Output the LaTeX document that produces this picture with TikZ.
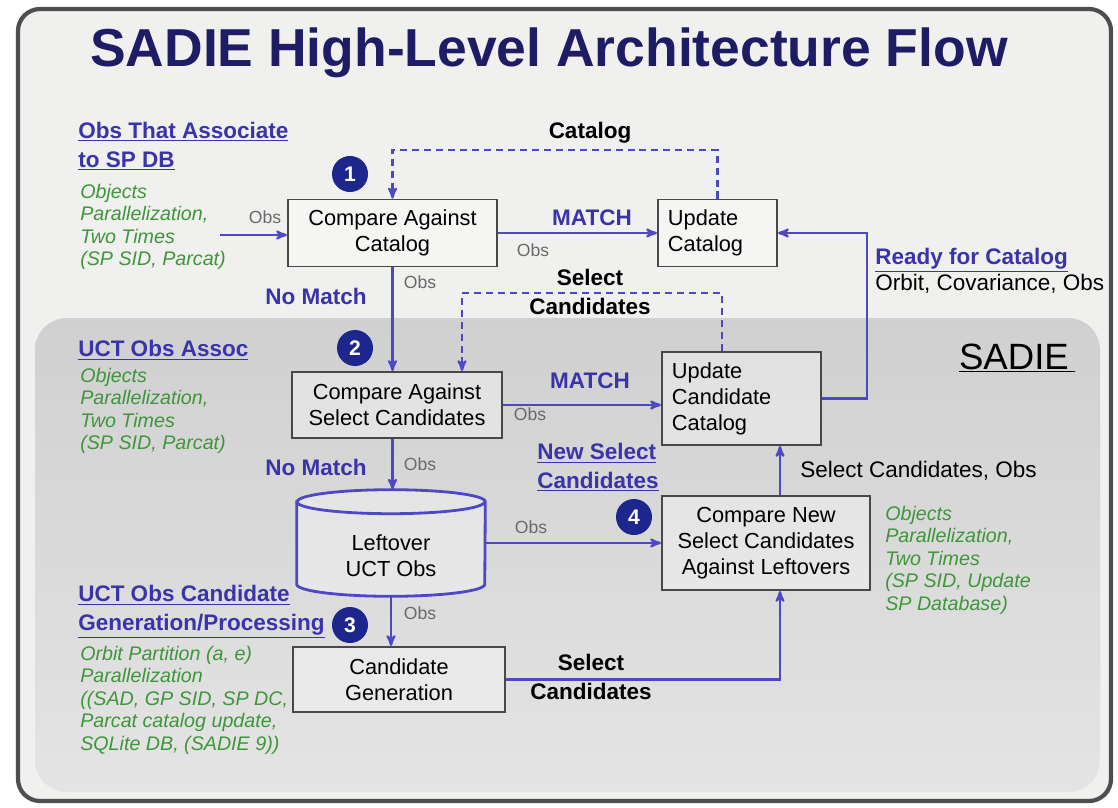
\documentclass[tikz,border=0pt]{standalone}
\usepackage{fontspec}
\setmainfont{Liberation Sans}
\usetikzlibrary{calc}
\usetikzlibrary{arrows}

\definecolor{navy}{RGB}{30,28,100}
\definecolor{flowblue}{RGB}{78,72,196}
\definecolor{headblue}{RGB}{58,52,170}
\definecolor{numblue}{RGB}{28,38,140}
\definecolor{notegreen}{RGB}{62,150,58}
\definecolor{obsgray}{RGB}{105,105,105}
\definecolor{boxgray}{RGB}{72,72,72}
\definecolor{panel}{RGB}{240,240,238}
\definecolor{framegray}{RGB}{78,78,78}
\definecolor{sadietop}{RGB}{208,208,208}
\definecolor{sadiebot}{RGB}{228,228,228}

\newcommand{\fsz}[2]{\fontsize{#1}{#2}\selectfont}

\tikzset{
  procbox/.style={draw=boxgray, line width=1.4pt, fill=white, fill opacity=.35, text opacity=1, align=center, inner sep=0pt, font=\fsz{15.5}{18.5}},
  leftbox/.style={procbox, align=left, inner xsep=0.25cm},
  numdot/.style={circle, fill=numblue, text=white, inner sep=0pt, minimum size=0.9cm, font=\bfseries\fsz{15}{15}},
  flow/.style={draw=flowblue, line width=1.6pt, ->, >=stealth'},
  back/.style={flow, dash pattern=on 5pt off 3.5pt},
  obs/.style={text=obsgray, font=\fsz{12.5}{15}},
  match/.style={text=headblue, font=\bfseries\fsz{16}{19}},
  carry/.style={font=\bfseries\fsz{16}{20}, align=center},
  heading/.style={text=headblue, font=\bfseries\fsz{16}{20.5}, align=left, anchor=west, inner sep=0pt},
  notes/.style={text=notegreen, font=\itshape\fsz{14}{16}, align=left, anchor=west, inner sep=0pt}
}

\begin{document}
\begin{tikzpicture}[x=0.025cm, y=-0.025cm]
\useasboundingbox (0,0) rectangle (1118,808);
\fill[white] (0,0) rectangle (1118,808);
% panel and the shaded SADIE area
\draw[framegray, line width=3pt, fill=panel, rounded corners=0.55cm] (18,9) rectangle (1111,801);
\shade[top color=sadietop, bottom color=sadiebot, rounded corners=0.8cm] (35,318) rectangle (1100,792);
\node[text=navy, font=\bfseries\fsz{38}{40}] (title) at (549,53) {SADIE High-Level Architecture Flow};
\node[font=\fsz{26}{28}] (sadie) at (1017,358) {\underline{SADIE\,}};

% process boxes
\node[procbox, minimum width=5.225cm, minimum height=1.675cm] (cmpcat) at (392.5,233) {Compare Against\\Catalog};
\node[leftbox, text width=2.475cm, minimum height=1.675cm] (updcat) at (717.5,233) {Update\\Catalog};
\node[procbox, minimum width=5.25cm, minimum height=1.65cm] (cmpsel) at (397,405) {Compare Against\\Select Candidates};
\node[leftbox, text width=3.475cm, minimum height=2.325cm] (updcand) at (741.5,398.5) {Update\\Candidate\\Catalog};
\node[procbox, minimum width=5.2cm, minimum height=2.35cm] (cmpnew) at (766,543) {Compare New\\Select Candidates\\Against Leftovers};
\node[procbox, minimum width=5.3cm, minimum height=1.625cm] (candgen) at (399,679.5) {Candidate\\Generation};

% leftover store
\node[minimum width=4.7cm, minimum height=2.65cm, inner sep=0pt] (left) at (391,543) {};
\filldraw[draw=flowblue, line width=2pt, fill=white, fill opacity=.35] ($(left.north west)+(0,12)$) -- ($(left.south west)+(0,-12)$) arc[start angle=180, end angle=360, x radius=2.35cm, y radius=0.3cm] -- ($(left.north east)+(0,12)$) arc[start angle=0, end angle=180, x radius=2.35cm, y radius=0.3cm] -- cycle;
\draw[flowblue, line width=2pt] ($(left.north west)+(0,12)$) arc[start angle=180, end angle=360, x radius=2.35cm, y radius=0.3cm];
\node[font=\fsz{15.5}{18.5}, align=center] (lefttxt) at (391,556) {Leftover\\UCT Obs};

\foreach \n/\px/\py in {1/350/174, 2/355/348, 3/350/625, 4/634/517}
  \node[numdot] (num\n) at (\px,\py) {\n};

\coordinate (obsin) at (220,235);
\coordinate (catline) at (550,150);
\coordinate (seltop) at (722,293);
\coordinate (selend) at (462,293);
\coordinate (riser) at (780,620);
\coordinate (readyx) at (867,300);

% connectors
\draw[flow] (obsin) -- (obsin -| cmpcat.west);
\draw[flow] (cmpcat.east) -- (updcat.west);
\draw[back] (updcat.north) |- (catline) -| (cmpcat.north);
\draw[flow] (cmpcat.south) -- (cmpcat.south |- cmpsel.north);
\draw[back] (seltop |- updcand.north) -- (seltop) -- (selend) -- (selend |- cmpsel.north);
\draw[flow] (cmpsel.east) -- (cmpsel.east -| updcand.west);
\draw[flow] (cmpcat.south |- cmpsel.south) -- (cmpcat.south |- left.north);
\draw[flow] (left.east) -- (cmpnew.west);
\draw[flow] (left.south) -- (left.south |- candgen.north);
\draw[flow] (candgen.east) -| (riser |- cmpnew.south);
\draw[flow] (riser |- cmpnew.north) -- (riser |- updcand.south);
\draw[flow] (updcand.east) -- (updcand.east -| readyx) -- (readyx |- updcat.east) -- (updcat.east);

% labels on the flow
\node[obs] (obs1) at (265,217) {Obs};
\node[match] (match1) at (592,218) {MATCH};
\node[obs] (obs2) at (533,250) {Obs};
\node[carry] (catlbl) at (590,133) {Catalog};
\node[obs] (obs3) at (420,282) {Obs};
\node[match] (nomatch1) at (316,296) {No Match};
\node[carry] (sellbl1) at (590,292) {Select\\Candidates};
\node[match] (match2) at (590,381) {MATCH};
\node[obs] (obs4) at (530,414) {Obs};
\node[match] (nomatch2) at (316,467) {No Match};
\node[obs] (obs5) at (420,464) {Obs};
\node[obs] (obs6) at (531,527) {Obs};
\node[obs] (obs7) at (420,613) {Obs};
\node[carry] (sellbl2) at (591,677) {Select\\Candidates};
\node[font=\fsz{16}{19}, anchor=west, inner sep=0pt] (selobs) at (800,471) {Select Candidates, Obs};
\node[heading] (readyhd) at (875,260) {\underline{Ready for Catalog}};
\node[font=\fsz{16}{19}, anchor=west, inner sep=0pt] (readytxt) at (875,284) {Orbit, Covariance, Obs};

% side notes
\node[heading] (assochd) at (78,146) {\underline{Obs That Associate}\\\underline{to SP DB}};
\node[notes] (assocnote) at (80,227) {Objects\\Parallelization,\\Two Times\\(SP SID, Parcat)};
\node[heading] (ucthd) at (78,350) {\underline{UCT Obs Assoc}};
\node[notes] (uctnote) at (80,411) {Objects\\Parallelization,\\Two Times\\(SP SID, Parcat)};
\node[heading] (genhd) at (78,612) {\underline{UCT Obs Candidate}\\\underline{Generation/Processing}};
\node[notes] (gennote) at (80,700) {Orbit Partition (a, e)\\Parallelization\\((SAD, GP SID, SP DC,\\Parcat catalog update,\\SQLite DB, (SADIE 9))};
\node[heading] (newhd) at (537,467.5) {\underline{New Select}\\\underline{Candidates}};
\node[notes] (newnote) at (885,560) {Objects\\Parallelization,\\Two Times\\(SP SID, Update\\SP Database)};
\end{tikzpicture}
\end{document}
